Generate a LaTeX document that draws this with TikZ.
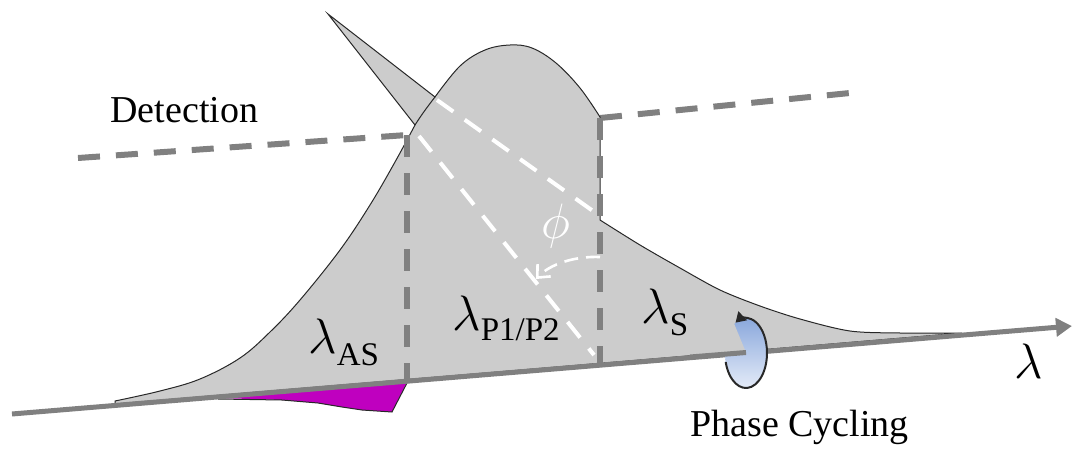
\documentclass[tikz,border=0pt]{standalone}
\usepackage{fontspec}
\setmainfont{Liberation Serif}
\usetikzlibrary{arrows.meta,calc}
\definecolor{fillg}{RGB}{204,204,204}
\definecolor{lineg}{RGB}{128,128,128}
\definecolor{magen}{RGB}{191,0,191}
\definecolor{bluetop}{RGB}{138,168,220}
\definecolor{bluebot}{RGB}{228,235,248}
\definecolor{edge}{RGB}{40,40,40}
\newcommand{\biglam}{\fontsize{23}{25}\selectfont$\lambda$}
\newcommand{\subf}{\fontsize{16.5}{18}\selectfont}
\tikzset{
  gdash/.style={draw=lineg, line width=3pt, dash pattern=on 11pt off 8pt},
  wdash/.style={draw=white, line width=2pt, dash pattern=on 10pt off 7pt},
  axisline/.style={draw=lineg, line width=2.5pt},
  outl/.style={draw=edge, line width=0.5pt},
  txt/.style={inner sep=0pt, font=\fontsize{19}{22}\selectfont},
  lab/.style={inner sep=0pt},
}
\begin{document}
\begin{tikzpicture}[x=0.5pt,y=-0.5pt]
\useasboundingbox (0,0) rectangle (1073,450);
% coordinates
\coordinate (D0) at (78,158);
\coordinate (D1) at (407,135);
\coordinate (D2) at (600,118);
\coordinate (D3) at (850,93);
\coordinate (A0) at (12,414);
\coordinate (A1) at (1072,326);
\coordinate (VL0) at (407,135);
\coordinate (VL1) at (407,383);
\coordinate (VR0) at (600,118);
\coordinate (VR1) at (600,365);
\coordinate (E) at (746,353);
% detection line
\draw[gdash] (D0) -- (D1);
\draw[gdash] (D2) -- (D3);
% magenta region
\fill[magen] (218,398) -- (407,382) -- (392,412) -- (362,410) -- (342,407) -- (318,403) -- (282,400) -- cycle;
\draw[outl] (218,399) -- (282,400) -- (318,403) -- (342,407) -- (362,410) -- (392,412) -- (407,383);
% main spectrum shape
\path[fill=fillg, outl] (115,404)
  -- plot[smooth, tension=0.6] coordinates {(115,401) (160,391) (200,379) (240,358) (270,332) (300,300) (340,250) (370,205) (395,162) (415,125)}
  -- (328,14) -- (435,97)
  -- plot[smooth, tension=0.6] coordinates {(435,97) (460,66) (485,50) (510,45) (532,48) (556,63) (580,88) (600,117)}
  -- (600,220)
  -- plot[smooth, tension=0.5] coordinates {(600,220) (640,245) (680,268) (720,290) (760,306) (800,319) (850,331) (900,333) (962,333)}
  -- cycle;
\draw[outl] (415,125) .. controls (422,114) and (428,106) .. (435,97);
% vertical dashed lines
\draw[gdash] (VL0) -- (VL1);
\draw[gdash] (VR0) -- (VR1);
% white dashed lines
\coordinate (W1a) at (437,100);
\coordinate (W1b) at (600,216);
\coordinate (W2a) at (419,136);
\coordinate (W2b) at (594,355);
\draw[wdash] (W1a) -- (W1b);
\draw[wdash] (W2a) -- (W2b);
\coordinate (R0) at (600,257);
\coordinate (R1) at (536,279);
\draw[draw=white, line width=1.3pt, dash pattern=on 7pt off 4pt, -{Straight Barb[length=5pt,width=9pt]}] (R0) .. controls (575,256) and (550,264) .. (R1);
\node[lab, text=white, font=\fontsize{24}{26}\selectfont] (phi) at (556,226) {$\phi$};
% axis
\draw[axisline, -{Triangle[length=8pt,width=9pt]}] (A0) -- (A1);
% phase cycling ring
\shade[top color=bluetop, bottom color=bluebot] (E) ellipse [x radius=21, y radius=35];
\fill[fillg] (712,300) -- (733,321) -- (746,352.5) -- (712,355.2) -- cycle;
\draw[axisline] (690,357) -- (746,352.5);
\draw[draw=edge, line width=1pt, -{Triangle[length=5pt,width=6pt]}] ($(E)+(165:21 and 35)$) arc[start angle=165, end angle=-120, x radius=21, y radius=35];
% labels
\node[txt, anchor=base west] (det) at (110,122) {Detection};
\node[txt, anchor=base west] (pc) at (690,436) {Phase Cycling};
\node[lab, anchor=base west] (lAS) at (308,353) {\biglam\raisebox{-6pt}{\subf AS}};
\node[lab, anchor=base west] (lP) at (452,330) {\biglam\raisebox{-5pt}{\subf P1/P2}};
\node[lab, anchor=base west] (lS) at (641,323) {\biglam\raisebox{-6pt}{\subf S}};
\node[lab, anchor=base west] (lam) at (1014,378) {\biglam};
\end{tikzpicture}
\end{document}
